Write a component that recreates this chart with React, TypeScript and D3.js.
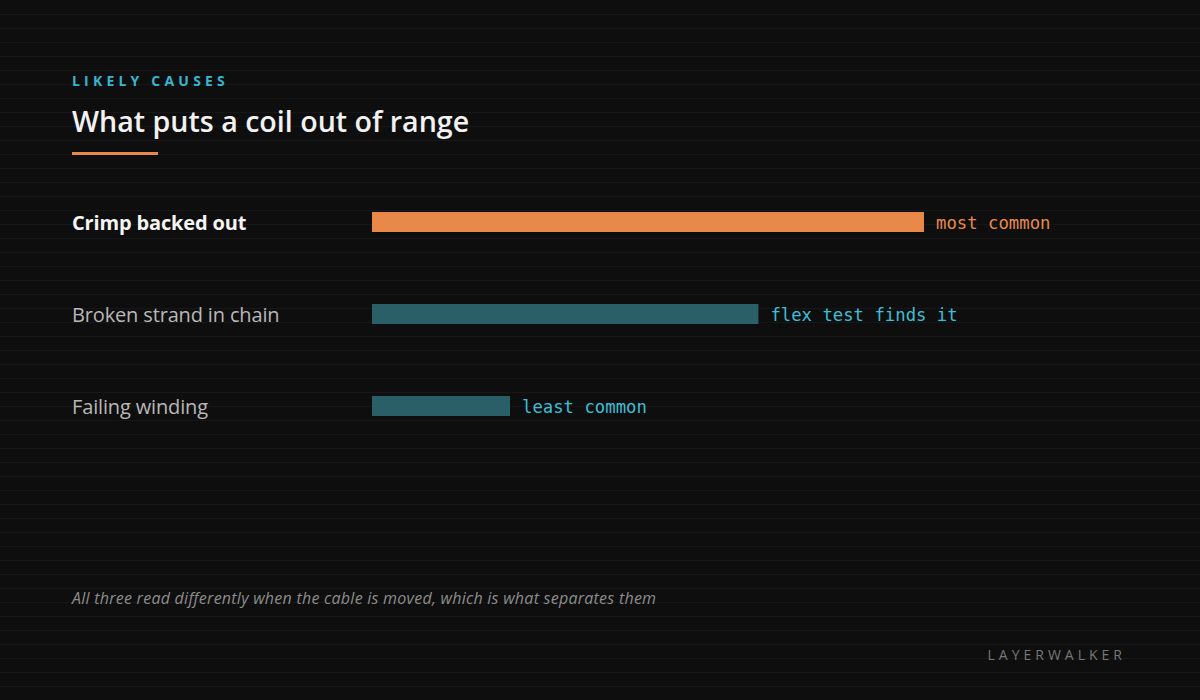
import React from "react";
import * as d3 from "d3";

const categories = ["Crimp backed out", "Broken strand in chain", "Failing winding"];
const values = [100, 70, 25];
const notes = ["most common", "flex test finds it", "least common"];
const highlight = [true, false, false];

const W = 1200;
const H = 700;

export default function App() {
  const x = d3.scaleLinear().domain([0, 100]).range([372, 924]);
  const y = d3
    .scalePoint<string>()
    .domain(categories)
    .range([222, 406]);
  const lines = d3.range(14, H, 14);
  return (
    <div style={{ position: "fixed", left: 0, top: 0, width: W, height: H }}>
      <svg width={W} height={H} style={{ display: "block" }}>
        <rect x={0} y={0} width={W} height={H} fill="#0e0e0e" />
        {lines.map((ly) => (
          <rect key={ly} x={0} y={ly} width={W} height={1} fill="#171717" />
        ))}
        <text
          x={72}
          y={86}
          fill="#37b6cf"
          fontFamily="'Open Sans', 'Noto Sans', sans-serif"
          fontWeight={700}
          fontSize={14}
          letterSpacing={4.2}
        >
          LIKELY CAUSES
        </text>
        <text
          x={72}
          y={132}
          fill="#f2f2f2"
          fontFamily="'Open Sans', 'Noto Sans', sans-serif"
          fontWeight={600}
          fontSize={28.6}
          letterSpacing={0}
        >
          What puts a coil out of range
        </text>
        <rect x={72} y={152} width={86} height={3} fill="#e8894a" />
        {categories.map((c, i) => {
          const cy = y(c) as number;
          const hi = highlight[i];
          return (
            <g key={c}>
              <text
                x={72}
                y={cy + 8}
                fill={hi ? "#f4f4f4" : "#b8b8b8"}
                fontFamily="'Open Sans', 'Noto Sans', sans-serif"
                fontWeight={hi ? 700 : 400}
                fontSize={20}
                letterSpacing={-0.15}
              >
                {c}
              </text>
              <rect
                x={x(0)}
                y={cy - 10}
                width={x(values[i]) - x(0)}
                height={20}
                fill={hi ? "#e8894a" : "#2a5f68"}
              />
              <text
                x={x(values[i]) + 12}
                y={cy + 7}
                fill={hi ? "#e8894a" : "#3cbfd6"}
                fontFamily="'DejaVu Sans Mono', 'Liberation Mono', monospace"
                fontSize={17.3}
              >
                {notes[i]}
              </text>
            </g>
          );
        })}
        <text
          x={72}
          y={604}
          fill="#8c8c8c"
          fontFamily="'Open Sans', 'Noto Sans', sans-serif"
          fontStyle="italic"
          fontSize={16}
          letterSpacing={0.25}
        >
          All three read differently when the cable is moved, which is what separates them
        </text>
        <text
          x={1126}
          y={660}
          textAnchor="end"
          fill="#777777"
          fontFamily="'Open Sans', 'Noto Sans', sans-serif"
          fontSize={14}
          letterSpacing={4}
        >
          LAYERWALKER
        </text>
      </svg>
    </div>
  );
}
